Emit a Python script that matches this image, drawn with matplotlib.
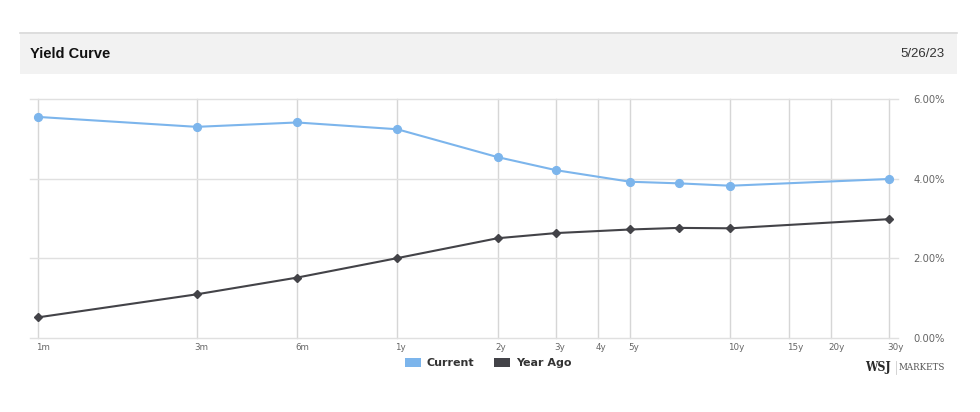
import matplotlib
matplotlib.use("Agg")
import matplotlib.pyplot as plt
from matplotlib.ticker import FixedLocator, NullLocator, FixedFormatter
from matplotlib.patches import Patch, Rectangle
from matplotlib.lines import Line2D
from matplotlib.transforms import ScaledTranslation

# ---- data ----
maturity_years = [1/12, 0.25, 0.5, 1, 2, 3, 5, 7, 10, 30]
current = [5.55, 5.30, 5.41, 5.24, 4.54, 4.21, 3.92, 3.88, 3.82, 3.99]
year_ago = [0.51, 1.09, 1.51, 2.00, 2.50, 2.63, 2.72, 2.76, 2.75, 2.98]
tick_years = [1/12, 0.25, 0.5, 1, 2, 3, 4, 5, 10, 15, 20, 30]
tick_labels = ["1m", "3m", "6m", "1y", "2y", "3y", "4y", "5y", "10y", "15y", "20y", "30y"]
y_ticks = [0, 2, 4, 6]
series_names = ["Current", "Year Ago"]
title = "Yield Curve"
date_label = "5/26/23"

BLUE = "#7cb5ec"
DARK = "#434348"

W, H = 980, 412
fig = plt.figure(figsize=(W / 100, H / 100), dpi=100)
fig.patch.set_facecolor("white")

def fx(px):
    return px / W

def fy(py):
    return 1 - py / H

# header band
fig.patches.append(Rectangle((fx(20), fy(74)), fx(957) - fx(20), fy(32) - fy(74),
                             transform=fig.transFigure, facecolor="#f2f2f2",
                             edgecolor="none", zorder=0))
fig.lines.append(Line2D([fx(20), fx(957)], [fy(32.5), fy(32.5)],
                        transform=fig.transFigure, color="#d9d9d9", lw=1.2))
fig.text(fx(30), fy(54), title, fontsize=10.5, fontweight="bold",
         family="Liberation Sans", color="#111111", ha="left", va="center")
fig.text(fx(945), fy(54), date_label, fontsize=9.5,
         family="Liberation Sans", color="#333333", ha="right", va="center")

# axes
ax = fig.add_axes([fx(30), fy(337.7), fx(898) - fx(30), fy(99) - fy(337.7)])
ax.set_xscale("log")
ax.plot(maturity_years, year_ago, color=DARK, lw=1.5, marker="D", ms=3.8,
        zorder=3, label=series_names[1])
ax.plot(maturity_years, current, color=BLUE, lw=1.5, marker="o", ms=5.6,
        zorder=4, label=series_names[0])

ax.set_xlim((1/12) / 1.0545, 30 * 1.0618)
ax.set_ylim(0, 6)

ax.xaxis.set_major_locator(FixedLocator(tick_years))
ax.xaxis.set_major_formatter(FixedFormatter(tick_labels))
ax.xaxis.set_minor_locator(NullLocator())
ax.yaxis.set_major_locator(FixedLocator(y_ticks))
ax.yaxis.set_minor_locator(NullLocator())
ax.set_yticklabels([f"{v:.2f}%" for v in y_ticks])
ax.yaxis.tick_right()

for s in ["top", "left", "right", "bottom"]:
    ax.spines[s].set_visible(False)

ax.xaxis.grid(True, color="#d6d6d6", lw=1.0)
ax.yaxis.grid(True, color="#e0e0e0", lw=1.0)
for gl in ax.get_xgridlines() + ax.get_ygridlines():
    gl.set_clip_on(False)
ax.set_axisbelow(True)

ax.tick_params(axis="x", length=0, pad=4, labelsize=6.3, labelcolor="#666666")
ax.tick_params(axis="y", length=0, pad=11, labelsize=7.2, labelcolor="#666666")
off = ScaledTranslation(-2 / 100, 0, fig.dpi_scale_trans)
for lab in ax.get_xticklabels():
    lab.set_horizontalalignment("left")
    lab.set_transform(lab.get_transform() + off)

# legend
handles = [Patch(facecolor=BLUE, edgecolor="none"), Patch(facecolor=DARK, edgecolor="none")]
leg = fig.legend(handles, series_names, loc="center",
                 bbox_to_anchor=(fx(488), fy(363)), ncol=2, frameon=False,
                 handlelength=1.47, handleheight=0.92, handletextpad=0.5,
                 columnspacing=1.8, borderpad=0, borderaxespad=0,
                 prop={"size": 8, "weight": "bold"})
for t in leg.get_texts():
    t.set_color("#333333")

# WSJ Markets logo text
fig.text(fx(890.5), fy(367.5), "WSJ", fontsize=8.8, fontweight="bold",
         family="DejaVu Serif", fontstretch="condensed",
         color="#2a2a2a", ha="right", va="center")
fig.lines.append(Line2D([fx(895.5), fx(895.5)], [fy(361), fy(374)],
                        transform=fig.transFigure, color="#cccccc", lw=0.6))
fig.text(fx(944.5), fy(367.5), "MARKETS", fontsize=6.9,
         family="DejaVu Serif", fontstretch="condensed",
         color="#555555", ha="right", va="center")

fig.savefig("out.png", dpi=100, facecolor="white")
